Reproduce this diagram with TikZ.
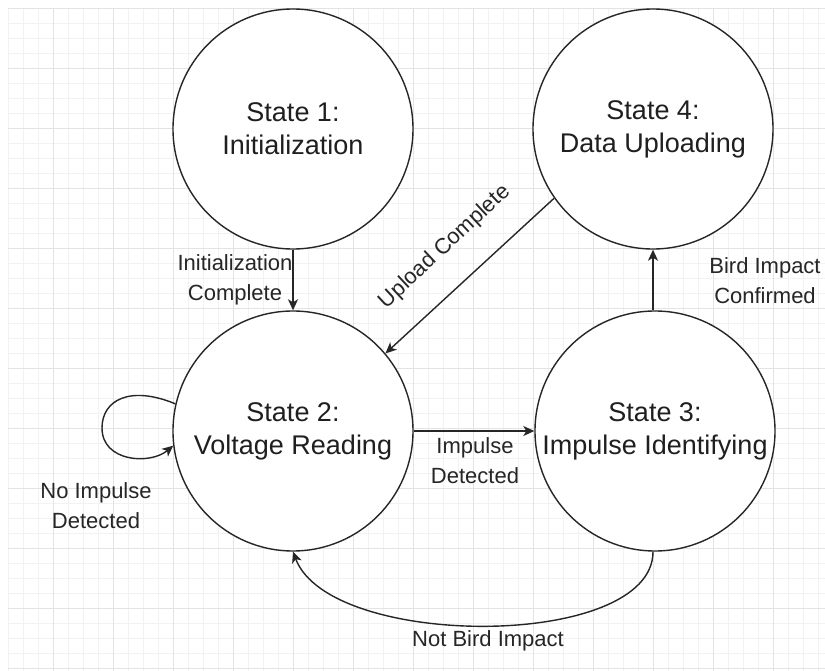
\documentclass[tikz,border=0pt]{standalone}
\usepackage{fontspec}
\setmainfont{Liberation Sans}
\usetikzlibrary{arrows.meta}
\begin{document}
\begin{tikzpicture}[x=1pt,y=-1pt,
 state/.style={circle,draw=black!85,line width=1.4pt,fill=white,minimum size=240pt,inner sep=0pt,align=center,text=black!88,font=\fontsize{27}{33}\selectfont},
 lbl/.style={align=center,font=\fontsize{22}{30}\selectfont,text=black!85,inner sep=0pt},
 conn/.style={draw=black!85,line width=1.4pt,-{Stealth[length=11pt,width=10pt,inset=3pt]}},
 minorgrid/.style={draw=black!5,line width=0.8pt},
 majorgrid/.style={draw=black!11,line width=0.8pt}
]
\useasboundingbox (0,0) rectangle (825,671);
\fill[white] (0,0) rectangle (825,671);
\foreach \x in {8,23,...,825} \draw[minorgrid] (\x,8) -- (\x,671);
\foreach \y in {8,23,...,671} \draw[minorgrid] (8,\y) -- (825,\y);
\foreach \x in {53,113,...,825} \draw[majorgrid] (\x,8) -- (\x,671);
\foreach \y in {8,68,...,671} \draw[majorgrid] (8,\y) -- (825,\y);

\node[state] (s1) at (293,129) {State 1:\\Initialization};
\node[state] (s2) at (293,431) {State 2:\\Voltage Reading};
\node[state] (s3) at (655,431) {State 3:\\Impulse Identifying};
\node[state] (s4) at (653,129) {State 4:\\Data Uploading};

\draw[conn] (s1.south) -- (s2.north);
\draw[conn] (s4.215) -- (s2.40);
\draw[conn] (s2.east) -- (s3.west);
\draw[conn] (s3.north -| s4.south) -- (s4.south);
\draw[conn] (s3.south -| s4.south) .. controls (653,650) and (330,650) .. (s2.south);
\draw[conn] (s2.167) .. controls (130,385) and (102,400) .. (102,428) .. controls (102,462) and (150,465) .. (s2.187);

\node[lbl] (l1) at (235,280) {Initialization\\Complete};
\node[lbl,rotate=43] (l2) at (445,247) {Upload Complete};
\node[lbl] (l3) at (765,281) {Bird Impact\\Confirmed};
\node[lbl] (l4) at (475,461) {Impulse\\Detected};
\node[lbl] (l5) at (96,506) {No Impulse\\Detected};
\node[lbl] (l6) at (488,641) {Not Bird Impact};
\end{tikzpicture}
\end{document}
